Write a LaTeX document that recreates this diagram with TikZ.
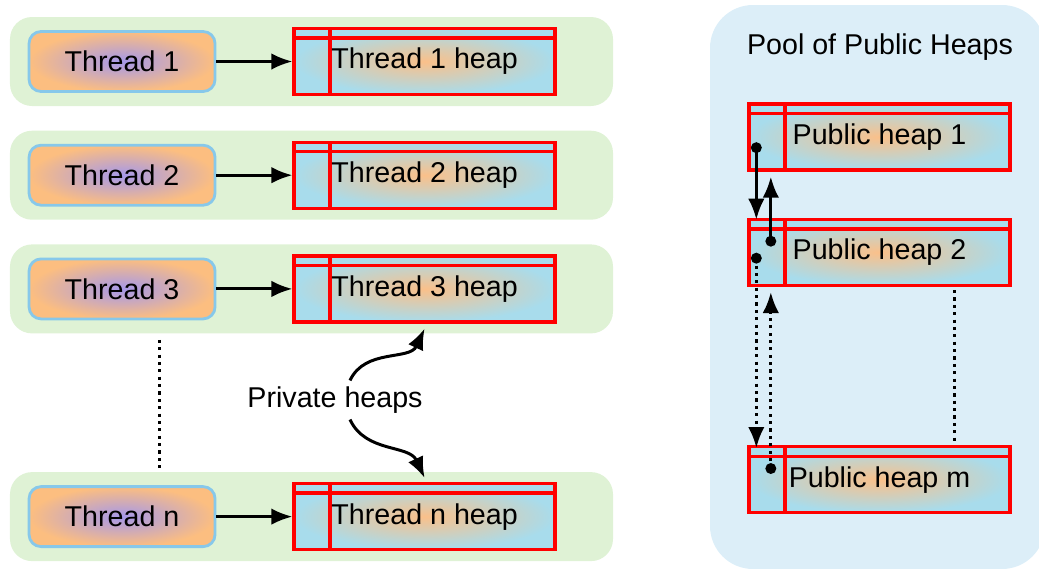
\documentclass[tikz,border=0pt]{standalone}
\usepackage{fontspec}
\setmainfont{Liberation Sans}
\usepackage{xcolor}
\usepackage{tikz}
\usetikzlibrary{positioning,arrows.meta}

\definecolor{rowgreen}{RGB}{223,242,213}
\definecolor{poolblue}{RGB}{220,238,248}
\definecolor{threadedge}{RGB}{135,200,234}
\definecolor{threadorange}{RGB}{252,190,128}
\definecolor{threadpurple}{RGB}{165,152,234}
\definecolor{heapblue}{RGB}{168,220,236}
\definecolor{heaporange}{RGB}{250,192,138}

\begin{document}
\begin{tikzpicture}[
    font=\fontsize{16.3}{19}\selectfont,
    rowbox/.style={rectangle, fill=rowgreen, rounded corners=0.44cm, minimum width=12.06cm, minimum height=1.78cm, inner sep=0pt},
    poolbox/.style={rectangle, fill=poolblue, rounded corners=0.86cm, minimum width=6.7cm, minimum height=11.28cm},
    thread/.style={rectangle, draw=threadedge, line width=1.6pt, rounded corners=0.24cm, minimum width=3.72cm, minimum height=1.2cm, inner color=threadpurple, outer color=threadorange},
    heap/.style={rectangle, draw=red, line width=1.9pt, minimum width=5.22cm, minimum height=1.32cm, inner color=heaporange, outer color=heapblue,
        path picture={
            \draw[red, line width=1.9pt] ([yshift=-0.19cm]path picture bounding box.north west) -- ([yshift=-0.19cm]path picture bounding box.north east);
            \draw[red, line width=1.9pt] ([xshift=0.72cm]path picture bounding box.north west) -- ([xshift=0.72cm]path picture bounding box.south west);
        }},
    arrow/.style={-{Latex[length=4.2mm,width=3.3mm]}, line width=1.7pt},
    dotline/.style={line width=1.8pt, dash pattern=on 1.8pt off 2.4pt}
]
\useasboundingbox (0,0) rectangle (20.78,-11.36);
\clip (0,0) rectangle (20.78,-11.36);

% Private side
\node[rowbox] (bg1) at (6.23,-1.23) {};
\node[rowbox, below=0.48cm of bg1] (bg2) {};
\node[rowbox, below=0.48cm of bg2] (bg3) {};
\node[rowbox, below=2.76cm of bg3] (bgn) {};

\node[thread, right=0.36cm of bg1.west] (t1) {Thread 1};
\node[thread, right=0.36cm of bg2.west] (t2) {Thread 2};
\node[thread, right=0.36cm of bg3.west] (t3) {Thread 3};
\node[thread, right=0.36cm of bgn.west] (tn) {Thread n};

\node[heap, right=1.52cm of t1] (h1) {Thread 1 heap};
\node[heap, right=1.52cm of t2] (h2) {Thread 2 heap};
\node[heap, right=1.52cm of t3] (h3) {Thread 3 heap};
\node[heap, right=1.52cm of tn] (hn) {Thread n heap};

\draw[arrow] (t1) -- (h1);
\draw[arrow] (t2) -- (h2);
\draw[arrow] (t3) -- (h3);
\draw[arrow] (tn) -- (hn);

\draw[dotline] ([xshift=3cm,yshift=-0.12cm]bg3.south west) -- ([xshift=3cm,yshift=0.06cm]bgn.north west);

\node (privlbl) at (6.7,-8.0) {Private heaps};
\draw[arrow] ([xshift=0.3cm]privlbl.north) to[out=65, in=245] ([yshift=-0.1cm]h3.south);
\draw[arrow] ([xshift=0.3cm]privlbl.south) to[out=-65, in=115] ([yshift=0.08cm]hn.north);

% Public side
\node[poolbox] (pool) at (17.55,-5.74) {};
\node[anchor=base] (pooltitle) at (17.6,-1.08) {Pool of Public Heaps};

\node[heap] (ph1) at (17.59,-2.74) {Public heap 1};
\node[heap, below=0.92cm of ph1] (ph2) {Public heap 2};
\node[heap, below=3.16cm of ph2] (phm) {Public heap m};

\coordinate (d1) at ([xshift=0.18cm,yshift=0.48cm]ph1.south west);
\coordinate (d2) at ([xshift=0.47cm,yshift=-0.47cm]ph2.north west);
\coordinate (d3) at ([xshift=0.18cm,yshift=-0.81cm]ph2.north west);
\coordinate (d4) at ([xshift=0.47cm,yshift=-0.47cm]phm.north west);

\draw[arrow] (d1) -- ([xshift=0.18cm,yshift=-0.04cm]ph2.north west);
\draw[arrow] (d2) -- ([xshift=0.47cm,yshift=-0.1cm]ph1.south west);
\draw[arrow, dotline] (d3) -- ([xshift=0.18cm,yshift=-0.06cm]phm.north west);
\draw[arrow, dotline] (d4) -- ([xshift=0.47cm,yshift=-0.1cm]ph2.south west);
\foreach \d in {d1,d2,d3,d4}
    \fill (\d) circle (0.11cm);

\draw[dotline] ([xshift=4.15cm,yshift=-0.06cm]ph2.south west) -- ([xshift=4.15cm,yshift=0.04cm]phm.north west);

\end{tikzpicture}
\end{document}
